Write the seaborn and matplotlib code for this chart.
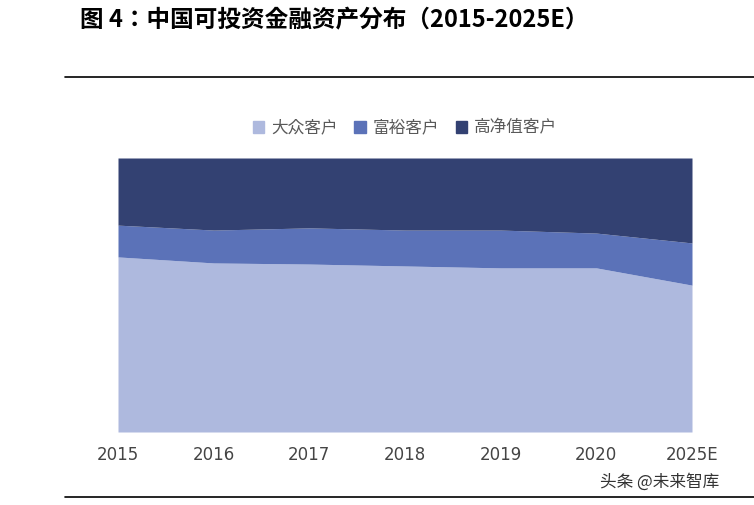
import matplotlib
matplotlib.use("Agg")
import matplotlib.pyplot as plt
from matplotlib import font_manager as fm
import seaborn as sns
import numpy as np
from matplotlib.patches import Patch

years = ["2015", "2016", "2017", "2018", "2019", "2020", "2025E"]
mass = [0.639, 0.617, 0.613, 0.606, 0.599, 0.599, 0.536]
affluent = [0.116, 0.120, 0.132, 0.131, 0.138, 0.127, 0.154]
hnw = [1 - a - b for a, b in zip(mass, affluent)]
names = ["大众客户", "富裕客户", "高净值客户"]
colors = ["#aeb9de", "#5b72b8", "#334172"]

sns.set_theme(style="white")
cjk = None
for f in fm.fontManager.ttflist:
    if "CJK" in f.name:
        cjk = f.name
        if "SC" in f.name:
            break
fam = [cjk, "DejaVu Sans"] if cjk else ["DejaVu Sans"]
plt.rcParams["font.family"] = "sans-serif"
plt.rcParams["font.sans-serif"] = fam

fig = plt.figure(figsize=(7.54, 5.05), dpi=100)
ax = fig.add_axes([118/754, 1-432/505, (692-118)/754, (432-158)/505])
x = np.arange(len(years))
ax.stackplot(x, mass, affluent, hnw, colors=colors, linewidth=0)
ax.set_xlim(0, len(years)-1)
ax.set_ylim(0, 1)
ax.set_xticks(x)
ax.set_xticklabels(years, fontsize=12, color="#444444", fontfamily="DejaVu Sans")
ax.tick_params(axis="x", length=0, pad=10)
ax.set_yticks([])
for s in ax.spines.values():
    s.set_visible(False)

handles = [Patch(color=c) for c in colors]
fig.legend(handles, names, loc="center", bbox_to_anchor=(405/754, 1-128/505), ncol=3,
           frameon=False, fontsize=12, labelcolor="#595959", handlelength=0.7,
           handleheight=0.7, columnspacing=1.0, handletextpad=0.4, prop={"family": fam, "size": 12})

fig.text(80/754, 1-20/505, "图 4：中国可投资金融资产分布（2015-2025E）", fontsize=17,
         fontweight="bold", va="center", ha="left", color="black", fontfamily=fam)
fig.add_artist(plt.Line2D([65/754, 1], [1-77/505]*2, color="black", lw=1.2))
fig.add_artist(plt.Line2D([65/754, 1], [1-497/505]*2, color="black", lw=1.2))
fig.text(600/754, 1-482/505, "头条 @未来智库", fontsize=12, color="#333333", va="center", fontfamily=fam)

fig.savefig("out.png", dpi=100)
